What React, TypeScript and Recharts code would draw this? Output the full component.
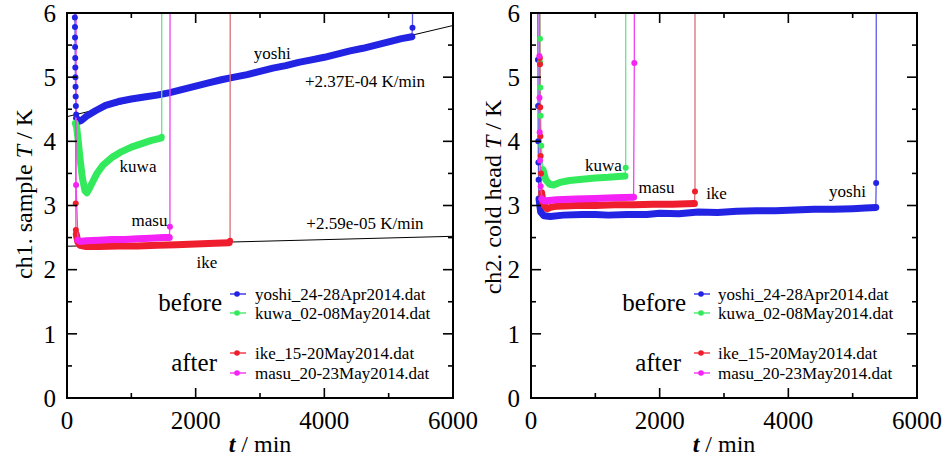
import React from 'react'
import { ComposedChart, Line, XAxis, YAxis, ReferenceLine, ReferenceDot, Legend } from 'recharts'

type Pt = [number, number] // [t / min, T / K]

const SERIF = '"Liberation Serif", "Times New Roman", Times, serif'

const X_MAX = 6000
const Y_MAX = 6
const X_TICKS = [0, 1000, 2000, 3000, 4000, 5000, 6000]
const Y_TICKS = [0, 0.5, 1, 1.5, 2, 2.5, 3, 3.5, 4, 4.5, 5, 5.5, 6]

const RUN_NAMES = ['yoshi', 'kuwa', 'ike', 'masu']
const RUN_FILES = ['yoshi_24-28Apr2014.dat', 'kuwa_02-08May2014.dat', 'ike_15-20May2014.dat', 'masu_20-23May2014.dat']
const RUN_COLORS = ['#2323e4', '#33ea5c', '#ee1e2e', '#f522f5']
const RUN_THIN = ['#5a5aea', '#66e68a', '#d8707a', '#ee44ee']

// ch1. sample
const ch1YoshiHead: Pt[] = [[122, 6.5], [122, 5.93], [124, 5.78], [125, 5.62], [126, 5.47], [128, 5.3], [129, 5.15], [131, 5.0], [133, 4.85], [135, 4.7], [138, 4.55], [143, 4.42]]
const ch1YoshiBand: Pt[] = [[150, 4.36], [180, 4.31], [230, 4.33], [300, 4.39], [450, 4.48], [600, 4.56], [800, 4.62], [1000, 4.66], [1200, 4.69], [1400, 4.72], [1600, 4.76], [1800, 4.81], [2000, 4.86], [2200, 4.91], [2400, 4.96], [2600, 5.0], [2800, 5.04], [3000, 5.09], [3200, 5.14], [3400, 5.18], [3600, 5.23], [3800, 5.27], [4000, 5.31], [4200, 5.36], [4400, 5.41], [4600, 5.45], [4800, 5.5], [5000, 5.55], [5200, 5.6], [5360, 5.63]]
const ch1YoshiTail: Pt[] = [[5370, 5.77], [5372, 6.5]]

const ch1KuwaHead: Pt[] = []
const ch1KuwaBand: Pt[] = [[130, 4.28], [150, 4.22], [170, 4.05], [200, 3.75], [240, 3.42], [280, 3.23], [310, 3.2], [350, 3.27], [400, 3.37], [460, 3.49], [560, 3.63], [700, 3.75], [850, 3.84], [1000, 3.91], [1150, 3.96], [1300, 4.01], [1460, 4.05]]
const ch1KuwaTail: Pt[] = [[1472, 4.07], [1472, 6.5]]

const ch1IkeHead: Pt[] = [[134, 6.5], [136, 3.03], [138, 2.62]]
const ch1IkeBand: Pt[] = [[145, 2.55], [165, 2.44], [200, 2.38], [300, 2.36], [500, 2.36], [800, 2.37], [1100, 2.37], [1400, 2.38], [1700, 2.39], [2000, 2.4], [2300, 2.41], [2520, 2.42]]
const ch1IkeTail: Pt[] = [[2535, 2.45], [2537, 6.5]]

const ch1MasuHead: Pt[] = [[140, 6.5], [141, 3.32]]
const ch1MasuBand: Pt[] = [[170, 2.46], [200, 2.44], [300, 2.45], [500, 2.46], [700, 2.47], [900, 2.47], [1100, 2.48], [1300, 2.49], [1500, 2.5], [1590, 2.5]]
const ch1MasuTail: Pt[] = [[1600, 2.67], [1602, 6.5]]

// ch2. cold head
const ch2YoshiHead: Pt[] = [[105, 6.5], [108, 5.27], [110, 4.55], [112, 4.0], [115, 3.67], [118, 3.4]]
const ch2YoshiBand: Pt[] = [[125, 3.1], [150, 2.9], [200, 2.84], [300, 2.83], [500, 2.85], [800, 2.86], [1000, 2.86], [1200, 2.85], [1500, 2.86], [1800, 2.86], [2000, 2.88], [2300, 2.87], [2600, 2.9], [2900, 2.89], [3200, 2.91], [3500, 2.92], [3800, 2.92], [4100, 2.93], [4400, 2.94], [4700, 2.94], [5000, 2.95], [5200, 2.96], [5360, 2.97]]
const ch2YoshiTail: Pt[] = [[5365, 3.35], [5367, 6.5]]

const ch2KuwaHead: Pt[] = [[138, 6.5], [140, 5.6], [142, 5.23], [145, 4.84], [150, 4.4], [160, 3.93]]
const ch2KuwaBand: Pt[] = [[185, 3.56], [230, 3.4], [290, 3.33], [350, 3.32], [450, 3.36], [600, 3.39], [800, 3.41], [1000, 3.43], [1200, 3.44], [1460, 3.46]]
const ch2KuwaTail: Pt[] = [[1472, 3.59], [1472, 6.5]]

const ch2IkeHead: Pt[] = [[135, 6.5], [138, 5.3], [140, 5.2], [143, 4.53], [146, 4.08], [150, 3.77], [155, 3.5]]
const ch2IkeBand: Pt[] = [[165, 3.2], [190, 3.02], [250, 2.95], [300, 2.97], [400, 2.99], [700, 3.0], [1000, 3.0], [1300, 3.01], [1600, 3.01], [1900, 3.02], [2200, 3.02], [2540, 3.03]]
const ch2IkeTail: Pt[] = [[2549, 3.22], [2549, 6.5]]

const ch2MasuHead: Pt[] = [[128, 6.5], [130, 5.33], [132, 4.68], [135, 4.14], [140, 3.7], [150, 3.3]]
const ch2MasuBand: Pt[] = [[170, 3.1], [200, 3.07], [400, 3.09], [700, 3.1], [1000, 3.11], [1300, 3.12], [1595, 3.13]]
const ch2MasuTail: Pt[] = [[1606, 5.22], [1606, 6.5]]

// linear fits on ch1: [t0, T0, t1, T1]
const ch1Fits: [number, number, number, number][] = [[0, 4.385, 6000, 5.805], [0, 2.365, 6000, 2.52]]

// annotations: [t, T, text]
const ch1Notes: [number, number, string][] = [
  [3190, 5.38, 'yoshi'],
  [4632, 4.945, '+2.37E-04 K/min'],
  [1104, 3.61, 'kuwa'],
  [1282, 2.77, 'masu'],
  [4632, 2.73, '+2.59e-05 K/min'],
  [2176, 2.125, 'ike'],
]
const ch2Notes: [number, number, string][] = [
  [1127, 3.625, 'kuwa'],
  [1951, 3.29, 'masu'],
  [2884, 3.19, 'ike'],
  [4920, 3.22, 'yoshi'],
]

interface Run { name: string; file: string; color: string; thin: string; head: Pt[]; band: Pt[]; tail: Pt[] }

const makeRuns = (parts: [Pt[], Pt[], Pt[]][]): Run[] =>
  parts.map(([head, band, tail], i) => ({
    name: RUN_NAMES[i], file: RUN_FILES[i], color: RUN_COLORS[i], thin: RUN_THIN[i], head, band, tail,
  }))

const ch1Runs = makeRuns([
  [ch1YoshiHead, ch1YoshiBand, ch1YoshiTail],
  [ch1KuwaHead, ch1KuwaBand, ch1KuwaTail],
  [ch1IkeHead, ch1IkeBand, ch1IkeTail],
  [ch1MasuHead, ch1MasuBand, ch1MasuTail],
])
const ch2Runs = makeRuns([
  [ch2YoshiHead, ch2YoshiBand, ch2YoshiTail],
  [ch2KuwaHead, ch2KuwaBand, ch2KuwaTail],
  [ch2IkeHead, ch2IkeBand, ch2IkeTail],
  [ch2MasuHead, ch2MasuBand, ch2MasuTail],
])

const toObj = (p: Pt[]) => p.map(([t, T]) => ({ t, T }))
const AXIS_LINE = { stroke: '#000', strokeWidth: 2 }
const H = 459
const TOP = 13
const X_AXIS_H = 61
const PLOT_B = H - X_AXIS_H
const PLOT_H = PLOT_B - TOP

const XTickLabel = (p: any) => {
  const v = p.payload.value
  if (v % 2000 !== 0) return <g />
  return <text x={p.x} y={p.y + 31} textAnchor="middle" fontSize={25} fontFamily={SERIF} fill="#000">{v}</text>
}
const YTickLabel = (p: any) => {
  const v = p.payload.value
  if (!Number.isInteger(v)) return <g />
  return <text x={p.x - 11} y={p.y} dy="0.35em" textAnchor="end" fontSize={25} fontFamily={SERIF} fill="#000">{v}</text>
}

interface PanelProps {
  runs: Run[]
  fits: [number, number, number, number][]
  notes: [number, number, string][]
  width: number
  axisW: number
  rightM: number
  channel: string
  yTitleX: number
  yTitleY: number
  markX: number
  textX: number
}

const ROW_Y = [294, 313, 353, 373]

function Panel({ runs, fits, notes, width, axisW, rightM, channel, yTitleX, yTitleY, markX, textX }: PanelProps) {
  const plotL = axisW
  const plotR = width - rightM
  const plotW = plotR - plotL
  const xMid = plotL + plotW / 2
  const tx = (v: number) => plotL + (v / X_MAX) * plotW
  const ty = (v: number) => PLOT_B - (v / Y_MAX) * PLOT_H

  const overlay = () => (
    <svg width={width} height={H}>
      {/* frame with inward ticks on all four sides */}
      <rect x={plotL} y={TOP} width={plotW} height={PLOT_H} fill="none" stroke="#000" strokeWidth={2} />
      {X_TICKS.map((v) => {
        const len = v % 2000 === 0 ? 10 : 5
        return (
          <g key={'x' + v}>
            <line x1={tx(v)} x2={tx(v)} y1={PLOT_B} y2={PLOT_B - len} stroke="#000" strokeWidth={1.6} />
            <line x1={tx(v)} x2={tx(v)} y1={TOP} y2={TOP + len} stroke="#000" strokeWidth={1.6} />
          </g>
        )
      })}
      {Y_TICKS.map((v) => {
        const len = Number.isInteger(v) ? 10 : 5
        return (
          <g key={'y' + v}>
            <line x1={plotL} x2={plotL + len} y1={ty(v)} y2={ty(v)} stroke="#000" strokeWidth={1.6} />
            <line x1={plotR} x2={plotR - len} y1={ty(v)} y2={ty(v)} stroke="#000" strokeWidth={1.6} />
          </g>
        )
      })}
      <text
        x={yTitleX} y={yTitleY} transform={`rotate(-90 ${yTitleX} ${yTitleY})`}
        textAnchor="middle" dominantBaseline="central" fontSize={24} fontFamily={SERIF} fill="#000"
      >
        {channel} <tspan fontStyle="italic">T</tspan> / K
      </text>
      <text x={xMid} y={452} textAnchor="middle" fontSize={24} fontFamily={SERIF} fill="#000">
        <tspan fontStyle="italic" fontWeight="bold">t</tspan> / min
      </text>
      <text x={markX - 8} y={311} textAnchor="end" fontSize={25} fontFamily={SERIF} fill="#000">before</text>
      <text x={markX - 13} y={371} textAnchor="end" fontSize={25} fontFamily={SERIF} fill="#000">after</text>
      {runs.map((r, i) => (
        <g key={r.name}>
          <line x1={markX} x2={markX + 16} y1={ROW_Y[i]} y2={ROW_Y[i]} stroke={r.color} strokeWidth={1.3} />
          <circle cx={markX + 7} cy={ROW_Y[i]} r={2.8} fill={r.color} />
          <text x={textX} y={ROW_Y[i] + 6} fontSize={17} fontFamily={SERIF} fill="#000">{r.file}</text>
        </g>
      ))}
    </svg>
  )

  return (
    <ComposedChart width={width} height={H} margin={{ top: TOP, right: rightM, bottom: 0, left: 0 }}>
      <XAxis
        xAxisId="b" type="number" dataKey="t" domain={[0, X_MAX]} ticks={X_TICKS} interval={0}
        allowDataOverflow height={X_AXIS_H} tickSize={0} tickMargin={0} tickLine={false} axisLine={AXIS_LINE} tick={XTickLabel}
      />
      <YAxis
        yAxisId="l" type="number" domain={[0, Y_MAX]} ticks={Y_TICKS} interval={0}
        allowDataOverflow width={axisW} tickSize={0} tickMargin={0} tickLine={false} axisLine={AXIS_LINE} tick={YTickLabel}
      />
      {fits.map((f, i) => (
        <ReferenceLine
          key={'fit' + i} xAxisId="b" yAxisId="l"
          segment={[{ x: f[0], y: f[1] }, { x: f[2], y: f[3] }]}
          stroke="#000" strokeWidth={1} ifOverflow="visible"
        />
      ))}
      {runs.flatMap((r) => [
        <Line
          key={r.name + '-thin'} xAxisId="b" yAxisId="l" data={toObj([...r.head, ...r.band, ...r.tail])}
          dataKey="T" stroke={r.thin} strokeWidth={1.3} dot={false} isAnimationActive={false} legendType="none"
        />,
        <Line
          key={r.name + '-band'} xAxisId="b" yAxisId="l" data={toObj(r.band)} dataKey="T"
          stroke={r.color} strokeWidth={7} strokeLinecap="round" strokeLinejoin="round"
          dot={false} isAnimationActive={false} legendType="none"
        />,
        <Line
          key={r.name + '-pts'} xAxisId="b" yAxisId="l" data={toObj([...r.head, ...r.tail].filter((p) => p[1] <= Y_MAX))}
          dataKey="T" stroke="none" dot={{ r: 3, fill: r.color, stroke: 'none' }} isAnimationActive={false} legendType="none"
        />,
      ])}
      {notes.map(([t, T, text]) => (
        <ReferenceDot
          key={text} xAxisId="b" yAxisId="l" x={t} y={T} r={1} fill="none" stroke="none"
          label={{ value: text, position: 'center', fill: '#000', fontSize: 17, fontFamily: SERIF }}
        />
      ))}
      <Legend
        layout="vertical" align="center" verticalAlign="middle" content={overlay}
        wrapperStyle={{ left: 0, top: 0, width, height: H, pointerEvents: 'none' }}
      />
    </ComposedChart>
  )
}

export default function App() {
  return (
    <div style={{ position: 'absolute', left: 0, top: 0, width: 943, height: H, background: '#fff' }}>
      <div style={{ position: 'absolute', left: 0, top: 0 }}>
        <Panel runs={ch1Runs} fits={ch1Fits} notes={ch1Notes} width={480} axisW={67} rightM={27}
          channel="ch1. sample" yTitleX={24} yTitleY={194} markX={230} textX={255} />
      </div>
      <div style={{ position: 'absolute', left: 470, top: 0 }}>
        <Panel runs={ch2Runs} fits={[]} notes={ch2Notes} width={473} axisW={61} rightM={26}
          channel="ch2. cold head" yTitleX={23} yTitleY={197} markX={224} textX={248} />
      </div>
    </div>
  )
}
